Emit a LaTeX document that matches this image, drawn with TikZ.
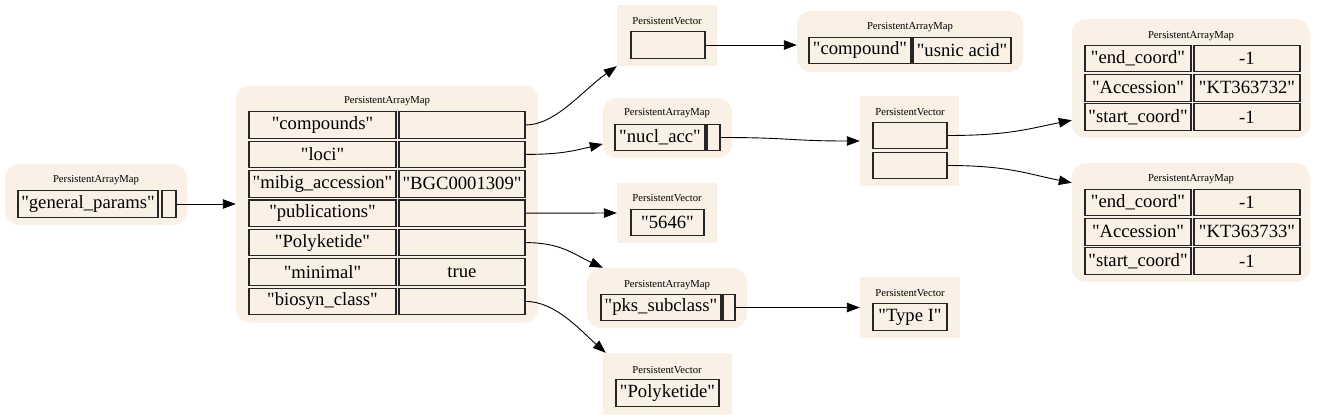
\documentclass[tikz,border=0pt]{standalone}
\usepackage{fontspec}
\setmainfont{Liberation Serif}[Ligatures=TeXOff]
\usetikzlibrary{arrows.meta,calc}
\definecolor{linen}{HTML}{FAF0E6}
\begin{document}
\begin{tikzpicture}[x=1pt,y=-1pt,
  mapbg/.style={fill=linen, rounded corners=14pt, inner sep=0pt, draw=none},
  vecbg/.style={fill=linen, inner sep=0pt, draw=none},
  cell/.style={draw=black!85, line width=1.1pt, fill=linen, inner sep=0pt, minimum height=26.5pt, font=\fontsize{18.67}{20}\selectfont},
  lbl/.style={inner sep=0pt, font=\fontsize{10.67}{12}\selectfont},
  edge/.style={-{Triangle[length=13pt,width=9.5pt]}, line width=0.9pt, black}]
\useasboundingbox (0,0) rectangle (1317,420);

% left map
\node[mapbg, minimum width=182pt, minimum height=61pt] (m0) at (96,194.5) {};
\node[lbl] (m0l) at (96,180) {PersistentArrayMap};
\node[cell, minimum width=140pt] (gp) at (88,204) {"general\_params"};
\node[cell, minimum width=14pt] (gpv) at (169,204) {};

% main map
\node[mapbg, minimum width=302pt, minimum height=237pt] (m1) at (387,204) {};
\node[lbl] (m1l) at (387,101) {PersistentArrayMap};
\node[cell, minimum width=147pt] (k1) at (322.5,125) {"compounds"};
\node[cell, minimum width=126pt] (v1) at (462,125) {};
\node[cell, minimum width=147pt] (k2) at (322.5,154.4) {"loci"};
\node[cell, minimum width=126pt] (v2) at (462,154.4) {};
\node[cell, minimum width=147pt] (k3) at (322.5,183.8) {"mibig\_accession"};
\node[cell, minimum width=126pt] (v3) at (462,183.8) {"BGC0001309"};
\node[cell, minimum width=147pt] (k4) at (322.5,213.2) {"publications"};
\node[cell, minimum width=126pt] (v4) at (462,213.2) {};
\node[cell, minimum width=147pt] (k5) at (322.5,242.6) {"Polyketide"};
\node[cell, minimum width=126pt] (v5) at (462,242.6) {};
\node[cell, minimum width=147pt] (k6) at (322.5,272) {"minimal"};
\node[cell, minimum width=126pt] (v6) at (462,272) {true};
\node[cell, minimum width=147pt] (k7) at (322.5,301.4) {"biosyn\_class"};
\node[cell, minimum width=126pt] (v7) at (462,301.4) {};

% top vector
\node[vecbg, minimum width=100pt, minimum height=61pt] (pv1) at (667,35.5) {};
\node[lbl] (pv1l) at (667,21) {PersistentVector};
\node[cell, minimum width=74pt] (p1c) at (668,45) {};

% compound map
\node[mapbg, minimum width=226pt, minimum height=61pt] (m2) at (910,41.5) {};
\node[lbl] (m2l) at (910,27) {PersistentArrayMap};
\node[cell, minimum width=102pt] (m2k) at (860,50.5) {"compound"};
\node[cell, minimum width=98pt] (m2v) at (962,50.5) {"usnic acid"};

% nucl_acc map
\node[mapbg, minimum width=129pt, minimum height=60pt] (m3) at (667.5,128) {};
\node[lbl] (m3l) at (667,113) {PersistentArrayMap};
\node[cell, minimum width=90pt] (nk) at (660,137.5) {"nucl\_acc"};
\node[cell, minimum width=13pt] (nv) at (713.5,137.5) {};

% middle vector
\node[vecbg, minimum width=99pt, minimum height=90pt] (pv2) at (909.5,141) {};
\node[lbl] (pv2l) at (910,112) {PersistentVector};
\node[cell, minimum width=74pt] (c1) at (910,135.5) {};
\node[cell, minimum width=74pt] (c2) at (910,165.5) {};

% right maps
\node[mapbg, minimum width=238pt, minimum height=119pt] (m5) at (1191,78.5) {};
\node[lbl] (m5l) at (1191,36) {PersistentArrayMap};
\node[cell, minimum width=106pt] (a1) at (1138,58.5) {"end\_coord"};
\node[cell, minimum width=106pt] (b1) at (1247,58.5) {-1};
\node[cell, minimum width=106pt] (a2) at (1138,87.8) {"Accession"};
\node[cell, minimum width=106pt] (b2) at (1247,87.8) {"KT363732"};
\node[cell, minimum width=106pt] (a3) at (1138,117.1) {"start\_coord"};
\node[cell, minimum width=106pt] (b3) at (1247,117.1) {-1};

\node[mapbg, minimum width=238pt, minimum height=119pt] (m6) at (1191,222.5) {};
\node[lbl] (m6l) at (1191,179) {PersistentArrayMap};
\node[cell, minimum width=106pt] (d1) at (1138,202.5) {"end\_coord"};
\node[cell, minimum width=106pt] (e1) at (1247,202.5) {-1};
\node[cell, minimum width=106pt] (d2) at (1138,231.8) {"Accession"};
\node[cell, minimum width=106pt] (e2) at (1247,231.8) {"KT363733"};
\node[cell, minimum width=106pt] (d3) at (1138,261.1) {"start\_coord"};
\node[cell, minimum width=106pt] (e3) at (1247,261.1) {-1};

% 5646 vector
\node[vecbg, minimum width=100pt, minimum height=60pt] (pv3) at (667,213) {};
\node[lbl] (pv3l) at (667,198) {PersistentVector};
\node[cell, minimum width=73pt] (p3c) at (667.5,222.5) {"5646"};

% pks map
\node[mapbg, minimum width=160pt, minimum height=60pt] (m4) at (667,298) {};
\node[lbl] (m4l) at (667,285) {PersistentArrayMap};
\node[cell, minimum width=120pt] (pk) at (661,307.5) {"pks\_subclass"};
\node[cell, minimum width=12pt] (pkv) at (729,307.5) {};

% Type I vector
\node[vecbg, minimum width=100pt, minimum height=61pt] (pv4) at (910,307.5) {};
\node[lbl] (pv4l) at (910,293) {PersistentVector};
\node[cell, minimum width=74pt] (p4c) at (910,317) {"Type I"};

% Polyketide vector
\node[vecbg, minimum width=129pt, minimum height=62pt] (pv5) at (667.5,384) {};
\node[lbl] (pv5l) at (667,370) {PersistentVector};
\node[cell, minimum width=103pt] (p5c) at (667.5,393) {"Polyketide"};

% edges
\draw[edge] (gpv.east) -- (m1.west);
\draw[edge] (v1.east) .. controls +(30,0) and +(-34,24) .. (pv1.south west);
\draw[edge] (v2.east) .. controls +(35,0) and +(-30,7) .. ($(m3.west)+(0,16)$);
\draw[edge] (v4.east) -- (pv3.west);
\draw[edge] (v5.east) .. controls +(35,0) and +(-30,-14) .. ($(m4.north west)+(16,0)$);
\draw[edge] (v7.east) .. controls +(30,0) and +(-25,-22) .. ($(pv5.north west)+(3,0)$);
\draw[edge] (p1c.east) -- (p1c.east -| m2.west);
\draw[edge] (nv.east) .. controls +(70,0) and +(-70,0) .. (pv2.west);
\draw[edge] (c1.east) .. controls +(60,0) and +(-45,9) .. ($(m5.south west)+(0,-18)$);
\draw[edge] (c2.east) .. controls +(60,0) and +(-45,-9) .. ($(m6.north west)+(0,20)$);
\draw[edge] (pkv.east) -- (pv4.west);
\end{tikzpicture}
\end{document}
